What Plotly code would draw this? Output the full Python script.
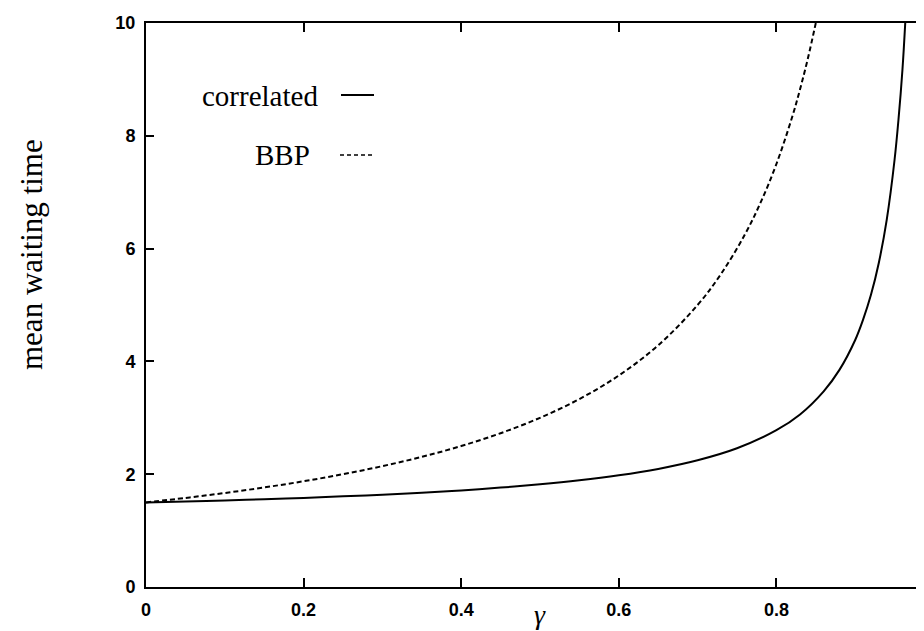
import plotly.graph_objects as go

# values
gamma_corr = [0.0, 0.05, 0.1, 0.15, 0.2, 0.25, 0.3, 0.35, 0.4, 0.45, 0.5, 0.55, 0.6, 0.65,
              0.7, 0.75, 0.8, 0.83, 0.86, 0.88, 0.9, 0.91, 0.92, 0.93, 0.94, 0.95, 0.955,
              0.96, 0.9635]
corr_vals = [1.50, 1.517, 1.535, 1.556, 1.58, 1.607, 1.637, 1.672, 1.713, 1.762, 1.82, 1.891,
             1.98, 2.094, 2.247, 2.46, 2.78, 3.06, 3.47, 3.85, 4.38, 4.74, 5.18, 5.75,
             6.51, 7.58, 8.30, 9.18, 10.0]

gamma_bbp = [0.0, 0.05, 0.1, 0.15, 0.2, 0.25, 0.3, 0.35, 0.4, 0.45, 0.5, 0.55, 0.6, 0.65,
             0.7, 0.73, 0.76, 0.78, 0.8, 0.82, 0.83, 0.84, 0.85]
bbp_vals = [1.50, 1.579, 1.667, 1.765, 1.875, 2.0, 2.143, 2.308, 2.50, 2.727, 3.0, 3.333,
            3.75, 4.286, 5.0, 5.556, 6.25, 6.818, 7.5, 8.333, 8.824, 9.375, 10.0]

x_ticks = [0, 0.2, 0.4, 0.6, 0.8]
x_tick_labels = ["0", "0.2", "0.4", "0.6", "0.8"]
y_ticks = [0, 2, 4, 6, 8, 10]
y_tick_labels = ["0", "2", "4", "6", "8", "10"]

W, H = 924, 631
L, R, T, B = 138, 0, 15, 52
pw, ph = W - L - R, H - T - B

def px(xp):
    return (xp - L) / pw

def py(yp):
    return (H - B - yp) / ph

fig = go.Figure()
fig.add_trace(go.Scatter(x=gamma_corr, y=corr_vals, mode="lines", line_shape="spline",
                         line=dict(color="black", width=2), name="correlated",
                         showlegend=False, hoverinfo="skip"))
fig.add_trace(go.Scatter(x=gamma_bbp, y=bbp_vals, mode="lines", line_shape="spline",
                         line=dict(color="black", width=2, dash="5px,3px"), name="BBP",
                         showlegend=False, hoverinfo="skip"))
# invisible trace to activate right-hand tick axis
fig.add_trace(go.Scatter(x=gamma_bbp, y=bbp_vals, yaxis="y2", mode="lines", opacity=0,
                         showlegend=False, hoverinfo="skip"))

tickfont = dict(family="Liberation Sans, Arial", size=18, color="black", weight="bold")
serif = "Liberation Serif, Times New Roman, serif"

fig.update_layout(
    width=W, height=H,
    margin=dict(l=L, r=R, t=T, b=B, pad=0),
    plot_bgcolor="white", paper_bgcolor="white",
    xaxis=dict(range=[0, pw / 788.0], tickvals=x_ticks, ticktext=x_tick_labels,
               ticks="inside", ticklen=9, tickwidth=1.5, tickcolor="black",
               showline=True, linecolor="black", linewidth=2, mirror="ticks",
               showgrid=False, zeroline=False, tickfont=tickfont, ticklabelstandoff=5),
    yaxis=dict(range=[0, 10], tickvals=y_ticks, ticktext=y_tick_labels,
               ticks="inside", ticklen=8, tickwidth=1.5, tickcolor="black",
               showline=True, linecolor="black", linewidth=2,
               showgrid=False, zeroline=False, tickfont=tickfont, ticklabelstandoff=5),
    yaxis2=dict(range=[0, 10], overlaying="y", side="right", tickvals=y_ticks,
                ticks="inside", ticklen=9, tickwidth=1.5, tickcolor="black",
                showticklabels=False, showline=False, showgrid=False, zeroline=False),
)

annotations = [
    dict(text="mean waiting time", x=px(23), y=py(247), xref="paper", yref="paper",
         textangle=-90, showarrow=False, font=dict(family=serif, size=31, color="black"),
         xanchor="center", yanchor="middle"),
    dict(text="<i>γ</i>", x=0.5 / (pw / 788.0), y=py(606), xref="paper", yref="paper",
         showarrow=False, font=dict(family=serif, size=28, color="black"),
         xanchor="center", yanchor="middle"),
    dict(text="correlated", x=px(312), y=py(88), xref="paper", yref="paper",
         showarrow=False, font=dict(family=serif, size=29, color="black"),
         xanchor="right", yanchor="middle"),
    dict(text="BBP", x=px(304), y=py(147), xref="paper", yref="paper",
         showarrow=False, font=dict(family=serif, size=29, color="black"),
         xanchor="right", yanchor="middle"),
]
fig.update_layout(annotations=annotations)

fig.add_shape(type="line", xref="paper", yref="paper", x0=px(333), x1=px(366),
              y0=py(87), y1=py(87), line=dict(color="black", width=2))
fig.add_shape(type="line", xref="paper", yref="paper", x0=px(332), x1=px(367),
              y0=py(147), y1=py(147), line=dict(color="black", width=1.5, dash="4px,3px"))

fig.write_html("out.html")
